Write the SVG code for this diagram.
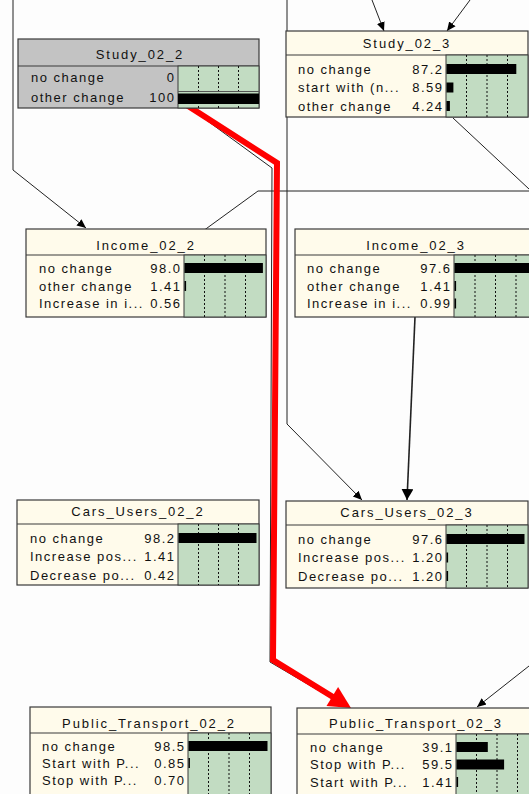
<svg xmlns="http://www.w3.org/2000/svg" width="529" height="794" viewBox="0 0 529 794">
  <defs>
    <style>
      .box { fill: #fffbeb; stroke: #3a3a3a; stroke-width: 1.2; }
      .box.grey { fill: #c3c3c3; }
      .sep { stroke: #3a3a3a; stroke-width: 1.2; }
      .panel { fill: #c2dcc2; stroke: #3a3a3a; stroke-width: 1; }
      .tick { stroke: #111; stroke-width: 1; stroke-dasharray: 2 2; }
      .bar { fill: #000; }
      text { font-family: "Liberation Sans", Arial, sans-serif; font-size: 13px; fill: #111; }
      .title { text-anchor: middle; letter-spacing: 1.9px; }
      .lab { letter-spacing: 1.5px; }
      .val { text-anchor: end; letter-spacing: 1.5px; }
      .link { fill: none; stroke: #222; stroke-width: 1; }
      .link.heavy { stroke-width: 1.6; }
      .hilite { fill: none; stroke: #ff0000; stroke-width: 6; stroke-linejoin: miter; }
    </style>
    <marker id="arr" markerUnits="userSpaceOnUse" markerWidth="12" markerHeight="12" refX="9" refY="5" orient="auto">
      <path d="M0,1 L9,5 L0,9 Z" fill="#000"/>
    </marker>
    <marker id="arrBig" markerUnits="userSpaceOnUse" markerWidth="14" markerHeight="14" refX="11" refY="6" orient="auto">
      <path d="M0,0 L11,6 L0,12 Z" fill="#000"/>
    </marker>
  </defs>

  <rect width="529" height="794" fill="#fdfdfd"/>

  <!-- links between nodes -->
  <g id="connectors">
    <polyline class="link" points="13,0 13,170 86,228" marker-end="url(#arr)"/>
    <polyline class="link" points="287,0 287,424 362,500" marker-end="url(#arr)"/>
    <line class="link" x1="372" y1="0" x2="384" y2="31" marker-end="url(#arr)"/>
    <line class="link" x1="470" y1="0" x2="447" y2="31" marker-end="url(#arr)"/>
    <polyline class="link" points="529,191 258,191 203,231"/>
    <line class="link" x1="453" y1="118" x2="529" y2="189"/>
    <line class="link heavy" x1="415" y1="317" x2="407" y2="500" marker-end="url(#arrBig)"/>
    <line class="link" x1="529" y1="666" x2="477" y2="707" marker-end="url(#arr)"/>
    <polyline class="link" points="187,106 272,168 270,662 345,706"/>
    <!-- highlighted path -->
    <polyline class="hilite" points="185,104 277,163 273,660 333,697"/>
    <polygon points="351,708 326.5,705.9 338.1,687.1" fill="#ff0000"/>
  </g>

  <!-- Study_02_2 -->
  <g id="study_02_2">
    <rect class="box grey" x="18" y="39" width="241" height="69"/>
    <line class="sep" x1="18" y1="66" x2="259" y2="66"/>
    <rect class="panel" x="178" y="66" width="81" height="42"/>
    <line class="tick" x1="198.5" y1="66" x2="198.5" y2="108"/>
    <line class="tick" x1="218.5" y1="66" x2="218.5" y2="108"/>
    <line class="tick" x1="238.5" y1="66" x2="238.5" y2="108"/>
    <line x1="178" y1="91.5" x2="259" y2="91.5" stroke="#555" stroke-width="1"/>
    <rect class="bar" x="178" y="93.5" width="81" height="10.5"/>
    <text class="title" x="140" y="58.5">Study_02_2</text>
    <text class="lab" x="31" y="81.5">no change</text>
    <text class="val" x="175.5" y="81.5">0</text>
    <text class="lab" x="31" y="102">other change</text>
    <text class="val" x="175.5" y="102">100</text>
  </g>

  <!-- Study_02_3 -->
  <g id="study_02_3">
    <rect class="box" x="286" y="31" width="242" height="86"/>
    <line class="sep" x1="286" y1="55" x2="528" y2="55"/>
    <rect class="panel" x="446" y="55" width="82" height="62"/>
    <line class="tick" x1="466.5" y1="55" x2="466.5" y2="117"/>
    <line class="tick" x1="487" y1="55" x2="487" y2="117"/>
    <line class="tick" x1="507.5" y1="55" x2="507.5" y2="117"/>
    <rect class="bar" x="446.5" y="64" width="69.8" height="10"/>
    <rect class="bar" x="446.5" y="82.5" width="6.9" height="10"/>
    <rect class="bar" x="446.5" y="101" width="3.4" height="10"/>
    <text class="title" x="407" y="48">Study_02_3</text>
    <text class="lab" x="298" y="73.5">no change</text>
    <text class="val" x="443.5" y="73.5">87.2</text>
    <text class="lab" x="298" y="92" letter-spacing="0.6">start with (n...</text>
    <text class="val" x="443.5" y="92">8.59</text>
    <text class="lab" x="298" y="110.5">other change</text>
    <text class="val" x="443.5" y="110.5">4.24</text>
  </g>

  <!-- Income_02_2 -->
  <g id="income_02_2">
    <rect class="box" x="26" y="229" width="240" height="88"/>
    <line class="sep" x1="26" y1="255" x2="266" y2="255"/>
    <rect class="panel" x="184" y="255" width="82" height="62"/>
    <line class="tick" x1="204.5" y1="255" x2="204.5" y2="317"/>
    <line class="tick" x1="225" y1="255" x2="225" y2="317"/>
    <line class="tick" x1="245.5" y1="255" x2="245.5" y2="317"/>
    <rect class="bar" x="184.5" y="263" width="78.4" height="10"/>
    <rect class="bar" x="184.5" y="281" width="1.6" height="10"/>
    <text class="title" x="146" y="249.5">Income_02_2</text>
    <text class="lab" x="39" y="272.5">no change</text>
    <text class="val" x="181.5" y="272.5">98.0</text>
    <text class="lab" x="39" y="290.5">other change</text>
    <text class="val" x="181.5" y="290.5">1.41</text>
    <text class="lab" x="39" y="308">Increase in i...</text>
    <text class="val" x="181.5" y="308">0.56</text>
  </g>

  <!-- Income_02_3 -->
  <g id="income_02_3">
    <rect class="box" x="295" y="229" width="242" height="88"/>
    <line class="sep" x1="295" y1="255" x2="537" y2="255"/>
    <rect class="panel" x="454" y="255" width="83" height="62"/>
    <line class="tick" x1="475" y1="255" x2="475" y2="317"/>
    <line class="tick" x1="495.5" y1="255" x2="495.5" y2="317"/>
    <line class="tick" x1="516" y1="255" x2="516" y2="317"/>
    <rect class="bar" x="454.5" y="263" width="78" height="10"/>
    <rect class="bar" x="454.5" y="281" width="1.6" height="10"/>
    <rect class="bar" x="454.5" y="298.5" width="1.6" height="10"/>
    <text class="title" x="416" y="249.5">Income_02_3</text>
    <text class="lab" x="307" y="272.5">no change</text>
    <text class="val" x="451.5" y="272.5">97.6</text>
    <text class="lab" x="307" y="290.5">other change</text>
    <text class="val" x="451.5" y="290.5">1.41</text>
    <text class="lab" x="307" y="308">Increase in i...</text>
    <text class="val" x="451.5" y="308">0.99</text>
  </g>

  <!-- Cars_Users_02_2 -->
  <g id="cars_users_02_2">
    <rect class="box" x="17" y="500" width="242" height="85"/>
    <line class="sep" x1="17" y1="524" x2="259" y2="524"/>
    <rect class="panel" x="178" y="524" width="81" height="61"/>
    <line class="tick" x1="198.5" y1="524" x2="198.5" y2="585"/>
    <line class="tick" x1="218.5" y1="524" x2="218.5" y2="585"/>
    <line class="tick" x1="238.5" y1="524" x2="238.5" y2="585"/>
    <rect class="bar" x="178.5" y="533" width="78" height="10"/>
    <text class="title" x="138" y="516">Cars_Users_02_2</text>
    <text class="lab" x="30" y="542.5">no change</text>
    <text class="val" x="175.5" y="542.5">98.2</text>
    <text class="lab" x="30" y="561">Increase pos...</text>
    <text class="val" x="175.5" y="561">1.41</text>
    <text class="lab" x="30" y="579.5">Decrease po...</text>
    <text class="val" x="175.5" y="579.5">0.42</text>
  </g>

  <!-- Cars_Users_02_3 -->
  <g id="cars_users_02_3">
    <rect class="box" x="286" y="501" width="242" height="87"/>
    <line class="sep" x1="286" y1="525" x2="528" y2="525"/>
    <rect class="panel" x="446" y="525" width="82" height="63"/>
    <line class="tick" x1="466.5" y1="525" x2="466.5" y2="588"/>
    <line class="tick" x1="487" y1="525" x2="487" y2="588"/>
    <line class="tick" x1="507.5" y1="525" x2="507.5" y2="588"/>
    <rect class="bar" x="446.5" y="534" width="78" height="10"/>
    <rect class="bar" x="446.5" y="552.5" width="1.6" height="10"/>
    <rect class="bar" x="446.5" y="571" width="1.6" height="10"/>
    <text class="title" x="407" y="517">Cars_Users_02_3</text>
    <text class="lab" x="298" y="543.5">no change</text>
    <text class="val" x="443.5" y="543.5">97.6</text>
    <text class="lab" x="298" y="562">Increase pos...</text>
    <text class="val" x="443.5" y="562">1.20</text>
    <text class="lab" x="298" y="580.5">Decrease po...</text>
    <text class="val" x="443.5" y="580.5">1.20</text>
  </g>

  <!-- Public_Transport_02_2 -->
  <g id="public_transport_02_2">
    <rect class="box" x="30" y="707" width="241" height="93"/>
    <line class="sep" x1="30" y1="733" x2="271" y2="733"/>
    <rect class="panel" x="188" y="733" width="83" height="67"/>
    <line class="tick" x1="208.5" y1="733" x2="208.5" y2="800"/>
    <line class="tick" x1="229" y1="733" x2="229" y2="800"/>
    <line class="tick" x1="249.5" y1="733" x2="249.5" y2="800"/>
    <rect class="bar" x="188.5" y="741" width="79" height="10"/>
    <rect class="bar" x="188.5" y="758" width="1.4" height="10"/>
    <text class="title" x="149" y="728">Public_Transport_02_2</text>
    <text class="lab" x="42" y="750.5">no change</text>
    <text class="val" x="185.5" y="750.5">98.5</text>
    <text class="lab" x="42" y="767.5" letter-spacing="0.9">Start with P...</text>
    <text class="val" x="185.5" y="767.5">0.85</text>
    <text class="lab" x="42" y="784.5">Stop with P...</text>
    <text class="val" x="185.5" y="784.5">0.70</text>
  </g>

  <!-- Public_Transport_02_3 -->
  <g id="public_transport_02_3">
    <rect class="box" x="297" y="708" width="241" height="92"/>
    <line class="sep" x1="297" y1="734" x2="538" y2="734"/>
    <rect class="panel" x="456" y="734" width="82" height="66"/>
    <line class="tick" x1="476.5" y1="734" x2="476.5" y2="800"/>
    <line class="tick" x1="497" y1="734" x2="497" y2="800"/>
    <line class="tick" x1="517.5" y1="734" x2="517.5" y2="800"/>
    <rect class="bar" x="456.5" y="742" width="31.3" height="10"/>
    <rect class="bar" x="456.5" y="759.5" width="47.6" height="10"/>
    <rect class="bar" x="456.5" y="777" width="1.6" height="10"/>
    <text class="title" x="416" y="728">Public_Transport_02_3</text>
    <text class="lab" x="310" y="751.5">no change</text>
    <text class="val" x="453.5" y="751.5">39.1</text>
    <text class="lab" x="310" y="769">Stop with P...</text>
    <text class="val" x="453.5" y="769">59.5</text>
    <text class="lab" x="310" y="786.5" letter-spacing="0.9">Start with P...</text>
    <text class="val" x="453.5" y="786.5">1.41</text>
  </g>
</svg>
